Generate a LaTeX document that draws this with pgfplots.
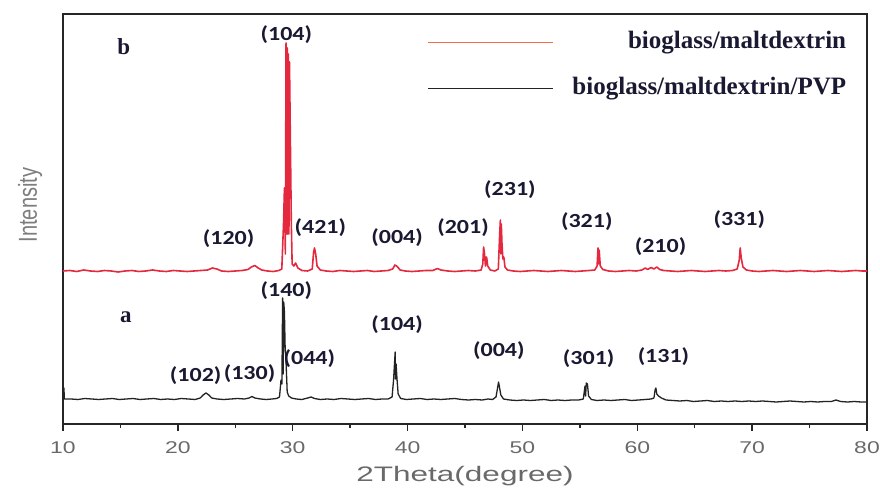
\documentclass[border=0pt]{standalone}
\usepackage{pgfplots}
\pgfplotsset{compat=1.18}
\usepackage{fontspec}
\setmainfont{Liberation Serif}
\newfontfamily\tickfont[FakeStretch=1.35]{Liberation Sans}
\newfontfamily\xlabfont[FakeStretch=1.5]{Liberation Sans}
\newfontfamily\ylabfont[FakeStretch=0.77]{Liberation Sans}
\newfontfamily\peakfont[FakeStretch=1.2]{Carlito}
\definecolor{redline}{RGB}{228,40,62}
\definecolor{blackline}{RGB}{35,35,35}
\definecolor{labcol}{RGB}{25,25,50}
\definecolor{legred}{RGB}{240,110,70}
\definecolor{ticktext}{RGB}{105,105,105}
\definecolor{ylabcol}{RGB}{125,125,125}
\tikzset{lab/.style={font=\peakfont\bfseries\fontsize{20}{21}\selectfont, text=labcol, inner sep=0pt}}

\pgfplotstableread{
x y
10 153
10.6 153.5
11.2 152.5
11.8 154
12.4 153
13.0 152.5
13.6 153.5
14.2 153
14.8 152
15.4 153
16.0 153.5
16.6 152.5
17.2 153
17.8 154
18.4 153
19.0 152.5
19.6 153.5
20.2 153
20.8 152.5
21.4 153
22.0 153.5
22.6 154
23.0 156
23.4 155
23.8 153
24.4 152.5
25.0 153
25.6 153.5
26.1 154.5
26.4 157
26.7 158.5
27.0 156
27.3 154
27.8 153
28.3 152.5
28.8 153.5
29.05 155
29.2 200
29.28 236
29.36 170
29.42 381
29.47 190
29.52 376
29.57 190
29.62 370
29.67 190
29.72 362
29.8 280
29.88 200
29.95 160
30.1 158
30.25 161
30.45 156
30.8 153.5
31.3 153
31.7 155
31.82 172
31.9 176
32.0 170
32.12 158
32.4 154
32.9 153
33.5 152.5
34.1 153.5
34.7 153
35.3 152.5
35.9 153
36.5 153.5
37.1 152.5
37.7 153
38.3 153.5
38.7 155
38.9 159
39.1 157.5
39.35 154
39.8 153
40.4 152.5
41.0 153
41.6 153.5
42.2 153.5
42.6 155.5
42.9 154
43.5 153
44.1 152.5
44.7 153
45.3 153.5
45.9 153
46.4 154
46.55 160
46.62 177
46.7 170
46.78 158
46.88 167
46.98 158
47.2 154
47.6 153
47.9 155
48.02 190
48.08 204
48.12 170
48.16 200
48.22 180
48.3 165
48.38 167
48.48 157
48.7 154
49.2 153
49.8 152.5
50.4 153
51.0 153.5
51.6 153
52.2 152.5
52.8 153
53.4 153.5
54.0 153
54.6 152.5
55.2 153
55.8 153.5
56.3 154
56.5 158
56.58 176
56.63 160
56.68 174
56.78 158
57.0 154.5
57.5 153
58.1 152.5
58.7 153
59.3 153.5
59.9 153
60.4 154
60.7 156
60.9 154.5
61.2 156.5
61.45 155
61.7 157
61.95 154.5
62.3 153.5
62.9 153
63.5 152.5
64.1 153
64.7 153.5
65.3 153
65.9 152.5
66.5 153
67.1 153.5
67.7 153
68.3 153.5
68.7 155
68.88 164
68.96 176
69.05 166
69.2 157
69.5 154
70.0 153
70.6 152.5
71.2 153
71.8 153.5
72.4 153
73.0 152.5
73.6 153
74.2 153.5
74.8 153
75.4 152.5
76.0 153
76.6 153.5
77.2 153
77.8 152.5
78.4 153
79.0 153.5
79.6 153
80 153
}\seriesb

\pgfplotstableread{
x y
10 25
10.02 36
10.08 36
10.12 25
10.7 25
11.3 24.5
11.9 25.5
12.5 25
13.1 24.5
13.7 25
14.3 25.5
14.9 24.5
15.5 25
16.1 25.5
16.7 24.5
17.3 25
17.9 25.5
18.5 24.5
19.1 25
19.7 24.5
20.3 25.5
20.9 25
21.5 24.5
21.95 26
22.2 29
22.45 31
22.7 29
22.95 26
23.4 25
24.0 24.5
24.6 25
25.2 25.5
25.8 25
26.2 26
26.45 27.5
26.7 26
27.2 25
27.7 24.5
28.2 25
28.6 25.5
28.85 27
28.98 44
29.06 40
29.12 126
29.17 50
29.22 122
29.28 112
29.34 77
29.42 62
29.52 32
29.65 28
29.9 26
30.3 25
30.8 24.5
31.3 26
31.6 27
31.9 25.5
32.4 24.5
33.0 25
33.6 24.5
34.2 25.5
34.8 25
35.4 24.5
36.0 25
36.6 25.5
37.2 24.5
37.8 25
38.3 25
38.65 27
38.78 44
38.86 60
38.92 72
38.96 45
39.0 60
39.08 45
39.18 30
39.4 25.5
39.9 24.5
40.5 25
41.1 25.5
41.7 24.5
42.3 25
42.9 24.5
43.5 25
44.1 25.5
44.7 24.5
45.3 24
45.9 24.5
46.5 24
47.0 25
47.4 24.5
47.7 27
47.82 35
47.92 42
48.0 37
48.12 29
48.35 25
48.9 24
49.5 23.5
50.1 24
50.7 23.5
51.3 24
51.9 24.5
52.5 23.5
53.1 24
53.7 23.5
54.3 24
54.9 24
55.3 25
55.45 38
55.5 28
55.56 41
55.66 40
55.76 28
56.0 24.5
56.5 23.5
57.1 24
57.7 23.5
58.3 24
58.9 24.5
59.5 23.5
60.1 24
60.7 24.5
61.2 25
61.45 26
61.55 34
61.62 36
61.7 30
61.85 28
62.1 26
62.5 24
63.1 23.5
63.7 23
64.3 23.5
64.9 22.5
65.5 23
66.1 23.5
66.7 22.5
67.3 23
67.9 22.5
68.5 23
69.1 22.5
69.7 23
70.3 22.5
70.9 23
71.5 22.5
72.1 22
72.7 22.5
73.3 23
73.9 22.5
74.5 22
75.1 22.5
75.7 22
76.3 22.5
76.9 22.5
77.3 24
77.7 22.5
78.3 22
78.9 22.5
79.5 22
80 22
}\seriesa

\begin{document}
\begin{tikzpicture}
\begin{axis}[
  at={(0pt,0pt)}, anchor=south west,
  scale only axis, width=804pt, height=410pt,
  xmin=10, xmax=80, ymin=0, ymax=410,
  clip=false,
  axis line style={line width=1.3pt, draw=black!85},
  xtick={10,20,30,40,50,60,70,80},
  xticklabels={10,20,30,40,50,60,70,80},
  minor x tick num=1,
  xtick pos=lower,
  tick align=outside,
  major tick length=7pt, minor tick length=4pt,
  every tick/.style={line width=1.3pt, black!85},
  ytick=\empty,
  xticklabel style={font=\tickfont\fontsize{17}{18}\selectfont, text=ticktext, yshift=-7pt},
  xlabel={2Theta(degree)},
  xlabel style={font=\xlabfont\fontsize{21}{22}\selectfont, text=ticktext, at={(axis description cs:0.5,-0.127)}, anchor=center},
  ylabel={Intensity},
  ylabel style={font=\ylabfont\fontsize{26}{27}\selectfont, text=ylabcol, at={(axis description cs:-0.041,0.534)}, anchor=center},
  legend image code/.code={\draw[#1, line width=0.8pt] (0pt,0pt) -- (125pt,0pt);},
  legend style={draw=none, fill=none, at={(0.978,0.962)}, anchor=north east,
    cells={anchor=east}, nodes={inner sep=0pt, text height=17pt, text depth=5pt, font=\bfseries\fontsize{25}{26}\selectfont, text=labcol},
    row sep=24pt, column sep=19pt},
]
\addplot[redline, line width=1.6pt, line join=round, legend image post style={draw=legred}] table[x=x,y=y]{\seriesb};
\addlegendentry{bioglass/maltdextrin}
\addplot[blackline, line width=1.3pt, line join=round, legend image post style={draw=blackline}] table[x=x,y=y]{\seriesa};
\addlegendentry{bioglass/maltdextrin/PVP}

\node[lab] at (axis cs:29.45,389) {(104)};
\node[lab] at (axis cs:24.42,185) {(120)};
\node[lab] at (axis cs:32.41,196) {(421)};
\node[lab] at (axis cs:39.09,186) {(004)};
\node[lab] at (axis cs:44.83,196) {(201)};
\node[lab] at (axis cs:48.91,234) {(231)};
\node[lab] at (axis cs:55.60,202) {(321)};
\node[lab] at (axis cs:62.02,177) {(210)};
\node[lab] at (axis cs:68.88,204) {(331)};
\node[lab] at (axis cs:29.45,133) {(140)};
\node[lab] at (axis cs:21.55,48) {(102)};
\node[lab] at (axis cs:26.24,50) {(130)};
\node[lab] at (axis cs:31.45,65) {(044)};
\node[lab] at (axis cs:39.09,99) {(104)};
\node[lab] at (axis cs:47.95,73) {(004)};
\node[lab] at (axis cs:55.77,65) {(301)};
\node[lab] at (axis cs:62.28,67) {(131)};
\node[font=\bfseries\fontsize{23}{24}\selectfont, text=labcol, inner sep=0pt] at (axis cs:15.30,377) {b};
\node[font=\bfseries\fontsize{23}{24}\selectfont, text=labcol, inner sep=0pt] at (axis cs:15.47,107) {a};
\end{axis}
\pgfresetboundingbox
\path (-63pt,-65pt) rectangle (817pt,424pt);
\end{tikzpicture}
\end{document}
